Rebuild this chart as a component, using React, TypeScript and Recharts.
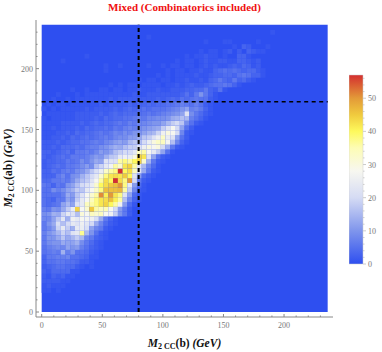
import React from "react";
import { ScatterChart, Scatter, XAxis, YAxis, ReferenceArea, BarChart, Bar } from "recharts";

const BIN = 3.93;
const CELL_PX = 4.85;
const RANGE = 236;
const rowsLow: number[][] = [
  [],[],[],[],
  [1,1,0,1],
  [1,2,1,1,1],
  [2,2,2,2,1,1],
  [2,1,3,2,3,1,1],
  [3,2,4,4,4,4,1,1],
  [2,3,4,5,5,4,4,2,1,0,1],
  [3,5,5,6,6,5,5,4,2,2,1],
  [3,6,6,7,7,8,5,5,4,3,1,1],
  [5,6,7,6,14,7,10,5,5,4,2,1],
  [5,7,8,9,8,12,10,11,7,5,3,2,1],
  [6,9,10,10,13,12,12,14,9,6,4,2,1],
  [6,10,10,13,17,13,15,18,15,8,6,3,2,1],
  [7,10,12,15,19,16,22,24,37,15,10,5,2,1],
  [6,8,11,19,24,18,14,24,25,21,12,8,6,2,1],
  [6,10,13,21,16,20,24,22,26,23,20,13,8,4,2,1],
  [8,8,12,17,23,14,26,24,28,27,26,21,13,6,3,1],
];
const rowsMid: number[][] = [
  [9,10,14,13,19,24,22,16,31,28,34,32,34,28,26,18,10,6,2],
  [7,6,10,9,13,18,25,44,28,32,45,36,34,35,28,20,11,6,2],
  [5,4,5,6,12,15,12,22,24,34,36,38,42,44,40,36,26,11,4,1],
  [5,4,3,6,6,12,10,18,24,28,34,38,42,43,46,41,36,16,8,3,1],
  [5,5,5,5,7,13,11,17,22,28,32,36,51,41,50,42,38,22,12,4,1],
  [5,5,9,7,9,12,14,18,17,24,28,33,38,46,46,46,47,36,18,8,2,1],
  [6,5,3,6,5,10,12,16,20,22,25,32,40,43,45,46,50,38,24,11,4,1],
  [4,4,6,6,7,6,9,13,16,18,22,28,36,43,40,57,43,38,50,20,6,2,1],
  [3,3,3,6,8,5,9,10,14,17,20,24,32,38,42,43,42,45,40,22,11,4,2,1],
  [3,3,5,4,6,7,6,9,10,13,17,21,25,33,36,38,57,40,43,34,22,13,6,2,1],
  [2,3,4,5,4,6,6,7,9,11,9,16,19,24,27,36,32,42,44,36,22,15,8,4,1],
  [2,3,3,4,4,6,5,6,9,7,10,13,12,22,22,22,36,38,36,40,44,32,14,6,2,1],
  [3,2,3,4,5,4,6,6,6,7,9,11,10,14,17,18,24,26,25,30,44,42,22,12,5,2,1],
  [3,3,2,3,4,5,3,6,6,7,6,8,11,10,12,16,18,20,20,24,34,36,28,24,18,12,5,1],
  [2,2,3,2,4,4,4,5,4,6,7,7,9,10,12,14,13,16,18,18,22,26,30,28,30,20,14,6,2,1],
  [2,2,2,3,2,3,4,4,5,5,6,7,6,8,9,11,12,11,15,17,16,20,25,30,33,34,27,16,8,3,1],
  [1,1,2,2,3,2,4,3,4,5,4,5,6,7,6,8,9,9,11,11,13,17,18,22,26,33,25,22,12,5,2],
  [1,1,1,2,2,3,2,4,3,4,4,5,6,5,6,8,7,9,8,10,10,12,14,15,19,26,30,28,20,8,2,1],
  [1,1,2,1,2,2,2,3,2,4,3,4,4,5,4,6,5,7,8,7,9,10,11,12,13,18,22,28,20,12,5,2],
  [1,1,1,1,2,2,2,2,3,2,3,4,3,4,4,5,6,5,7,6,8,8,9,10,10,12,15,18,20,17,9,5,2,1],
];
const rowsHigh: number[][] = [
  [1,0,1,1,1,1,1,2,2,2,2,3,2,4,3,4,4,5,5,6,7,6,8,8,9,9,10,13,14,16,15,7,5,3,1],
  [0,1,1,1,1,1,1,2,2,2,2,2,3,2,3,4,3,4,4,4,5,5,6,5,6,7,8,9,10,12,22,9,6,4,2,1],
  [1,0,1,0,1,1,1,1,1,2,1,2,2,2,2,3,2,3,4,3,4,5,4,5,5,5,6,7,8,10,12,7,8,6,3,1],
  [0,1,0,1,1,0,1,1,1,1,1,1,2,1,2,2,2,2,3,2,3,3,4,3,4,4,5,5,6,7,6,5,7,5,2,1],
  [0,0,1,0,0,1,0,1,1,1,1,1,1,1,2,1,2,2,2,2,2,2,2,2,3,2,3,4,3,5,4,5,6,5,5,2,1],
  [0,0,0,1,0,0,0,1,0,1,1,1,1,1,1,1,1,1,1,2,1,1,2,2,2,2,2,2,2,3,5,3,6,10,6,3,1],
  [0,0,0,0,0,0,1,0,0,1,0,0,1,1,0,1,1,0,1,1,2,1,1,1,2,1,1,2,2,2,3,3,4,4,6,3,2,5,1],
];
const sparseStarts = [14, 20, 24, 26, 13, 28, 30, 33, 40, 34, 22, 48];
const sparseRows: number[][] = [
  [1,0,1,0,1,1,0,1,1,1,1,0,1,1,2,1,2,3,2,2,3,4,5,5,6,5,3,1],
  [1,0,1,1,0,1,1,0,1,1,2,1,1,2,1,3,4,6,4,3,6,3,4,2,1],
  [1,0,1,0,1,1,1,1,2,1,1,2,3,3,4,4,3,5,6,5,3,3,1],
  [1,0,1,1,0,1,1,2,1,1,3,4,5,4,5,4,3,4,4,2,1],
  [1,0,0,1,0,0,0,0,0,1,0,0,1,0,1,1,0,1,1,0,1,2,1,2,1,1,2,3,2,4,3,1,2],
  [1,0,1,1,0,1,2,1,1,2,2,1,1,3,3,2,1,2],
  [1,0,1,1,2,1,1,0,1,0,0,3,3,1],
  [1,0,1,1,0,1,2,0,2,0,3,2,1,1],
  [1,0,3,2,0,0,0,1],
  [1,0,0,0,1,1,0,0,0,0,0,1],
  [1],
  [1],
];
const leftFaintCols = [4, 13, 9];
const leftFaintRows = [52, 50, 53];

const stopValues = [0, 10, 20, 28, 35, 40, 45, 50, 57];
const stopColors = ["#2e4ff0", "#7f95ec", "#d5dbf4", "#f7f7f0", "#fdfcb5", "#fef95c", "#f0ca3e", "#e39a38", "#d42f2f"];
const MAX = 57;
const tickValues = [0,10,20,30,40,50,60,70,80,90,100,110,120,130,140,150,160,170,180,190,200,210,220,230];
const majorTicks = [0, 50, 100, 150, 200];
const cutX = 80;
const cutY = 172.8;
const verticalCut = [{ x: cutX, y: 0 }, { x: cutX, y: RANGE }];
const horizontalCut = [{ x: 0, y: cutY }, { x: RANGE, y: cutY }];
const barTicks = [0,2,4,6,8,10,12,14,16,18,20,22,24,26,28,30,32,34,36,38,40,42,44,46,48,50,52,54,56];
const barData = [{ name: "scale", value: MAX }];

const parse = (h: string) => [1, 3, 5].map((i) => parseInt(h.slice(i, i + 2), 16));
function colorOf(v: number) {
  let k = 0;
  while (k < stopValues.length - 2 && v > stopValues[k + 1]) k++;
  const t = Math.min(1, (v - stopValues[k]) / (stopValues[k + 1] - stopValues[k]));
  const a = parse(stopColors[k]), b = parse(stopColors[k + 1]);
  return `rgb(${a.map((c, i) => Math.round(c + (b[i] - c) * t)).join(",")})`;
}

type Cell = { x: number; y: number; v: number };
const cells: Cell[] = [];
const put = (c: number, r: number, v: number) => {
  if (v > 0) cells.push({ x: (c + 0.5) * BIN, y: (r + 0.5) * BIN, v });
};
[...rowsLow, ...rowsMid, ...rowsHigh].forEach((row, r) => row.forEach((v, c) => put(c, r, v)));
sparseRows.forEach((row, k) => row.forEach((v, i) => put(sparseStarts[k] + i, 47 + k, v)));
leftFaintCols.forEach((c, i) => put(c, leftFaintRows[i], 1));

const GRAY = "#888";
const LABEL = "#777";
const SERIF = "'Liberation Serif', serif";

const CellShape = (p: any) => (
  <rect x={p.cx - CELL_PX / 2} y={p.cy - CELL_PX / 2} width={CELL_PX} height={CELL_PX} fill={colorOf(p.payload.v)} />
);
const NoPoint = () => null;
const isMajor = (v: number) => majorTicks.includes(v);

const BottomTick = (p: any) => (
  <g>
    <line x1={p.x} x2={p.x} y1={p.y} y2={p.y - (isMajor(p.payload.value) ? 3 : 1.5)} stroke={GRAY} />
    {isMajor(p.payload.value) && (
      <text x={p.x} y={p.y + 11} textAnchor="middle" fontFamily={SERIF} fontSize={8} fill={LABEL}>{p.payload.value}</text>
    )}
  </g>
);
const LeftTick = (p: any) => (
  <g>
    <line x1={p.x} x2={p.x + (isMajor(p.payload.value) ? 3 : 1.5)} y1={p.y} y2={p.y} stroke={GRAY} />
    {isMajor(p.payload.value) && (
      <text x={p.x - 3} y={p.y + 3} textAnchor="end" fontFamily={SERIF} fontSize={8} fill={LABEL}>{p.payload.value}</text>
    )}
  </g>
);
const TopTick = (p: any) => (
  <line x1={p.x} x2={p.x} y1={p.y} y2={p.y + (isMajor(p.payload.value) ? 3 : 1.5)} stroke={GRAY} />
);
const RightTick = (p: any) => (
  <line x1={p.x} x2={p.x - (isMajor(p.payload.value) ? 3 : 1.5)} y1={p.y} y2={p.y} stroke={GRAY} />
);
const BarTick = (p: any) => {
  const v = p.payload.value;
  const major = v % 10 === 0;
  return (
    <g>
      <line x1={p.x} x2={p.x + (major ? 3 : 1.5)} y1={p.y} y2={p.y} stroke="#ccc" />
      {major && (
        <text x={p.x + 5} y={p.y + 3} fontFamily={SERIF} fontSize={8} fill={LABEL}>{v}</text>
      )}
    </g>
  );
};

export default function App() {
  return (
    <div style={{ position: "absolute", left: 0, top: 0, width: 382, height: 352 }}>
      <ScatterChart width={382} height={352} margin={{ top: 19, right: 48, bottom: 34, left: 35 }}>
        <XAxis xAxisId="b" type="number" dataKey="x" orientation="bottom" height={1} domain={[-4.7, 240.4]} ticks={tickValues} interval={0}
          tick={BottomTick} tickLine={false} tickSize={0} tickMargin={0} axisLine={{ stroke: GRAY }} />
        <XAxis xAxisId="t" type="number" dataKey="x" orientation="top" height={1} domain={[-4.7, 240.4]} ticks={tickValues} interval={0}
          tick={TopTick} tickLine={false} tickSize={0} tickMargin={0} axisLine={false} />
        <YAxis yAxisId="l" type="number" dataKey="y" orientation="left" width={1} domain={[-4.1, 240]} ticks={tickValues} interval={0}
          tick={LeftTick} tickLine={false} tickSize={0} tickMargin={0} axisLine={{ stroke: GRAY }} />
        <YAxis yAxisId="r" type="number" dataKey="y" orientation="right" width={1} domain={[-4.1, 240]} ticks={tickValues} interval={0}
          tick={RightTick} tickLine={false} tickSize={0} tickMargin={0} axisLine={false} />
        <ReferenceArea xAxisId="b" yAxisId="l" x1={0} x2={RANGE} y1={0} y2={RANGE} fill={stopColors[0]} fillOpacity={1} stroke="none" />
        <Scatter xAxisId="b" yAxisId="l" data={cells} shape={CellShape} isAnimationActive={false} />
        <Scatter xAxisId="b" yAxisId="l" data={verticalCut} shape={NoPoint} line={{ stroke: "#000", strokeWidth: 2, strokeDasharray: "4 3" }} isAnimationActive={false} />
        <Scatter xAxisId="b" yAxisId="l" data={horizontalCut} shape={NoPoint} line={{ stroke: "#000", strokeWidth: 1.5, strokeDasharray: "4 3.5" }} isAnimationActive={false} />
        <text x={184.5} y={11} textAnchor="middle" fontFamily={SERIF} fontWeight="bold" fontSize={11} fill="#f01010">Mixed (Combinatorics included)</text>
        <text x={184.5} y={347} textAnchor="middle" fontFamily={SERIF} fontWeight="bold" fontSize={11.5} fill="#111">
          <tspan fontStyle="italic">M</tspan><tspan fontSize={8} dy={2}>2 CC</tspan><tspan dy={-2}>(b) </tspan><tspan fontStyle="italic">(GeV)</tspan>
        </text>
        <text transform="translate(12,168) rotate(-90)" textAnchor="middle" fontFamily={SERIF} fontWeight="bold" fontSize={11.5} fill="#111">
          <tspan fontStyle="italic">M</tspan><tspan fontSize={8} dy={2}>2 CC</tspan><tspan dy={-2}>(ab) </tspan><tspan fontStyle="italic">(GeV)</tspan>
        </text>
      </ScatterChart>
      <div style={{ position: "absolute", left: 349, top: 65 }}>
        <BarChart width={33} height={209} data={barData} margin={{ top: 10, right: 0, bottom: 10, left: 0 }} barCategoryGap={0}>
          <defs>
            <linearGradient id="scaleGrad" x1="0" y1="1" x2="0" y2="0">
              {stopValues.map((v, i) => (
                <stop key={v} offset={v / MAX} stopColor={stopColors[i]} />
              ))}
            </linearGradient>
          </defs>
          <XAxis dataKey="name" hide />
          <YAxis orientation="right" width={19} domain={[0, MAX]} ticks={barTicks} interval={0} tick={BarTick} tickLine={false} tickSize={0} tickMargin={0} axisLine={false} />
          <Bar dataKey="value" fill="url(#scaleGrad)" stroke="#ccc" strokeWidth={0.5} isAnimationActive={false} />
        </BarChart>
      </div>
    </div>
  );
}
